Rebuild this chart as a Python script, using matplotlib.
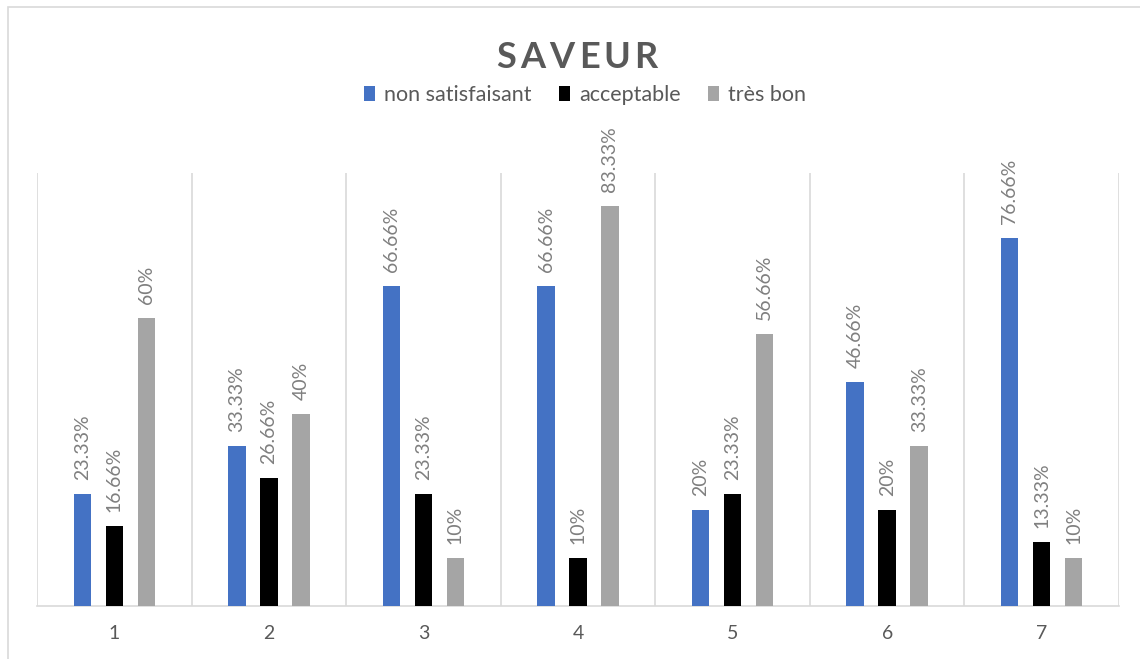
import matplotlib
matplotlib.use("Agg")
import matplotlib.pyplot as plt
from matplotlib.patches import Rectangle, Patch
import numpy as np

# Data
categories = ["1", "2", "3", "4", "5", "6", "7"]
series_names = ["non satisfaisant", "acceptable", "très bon"]
non_satisfaisant = [23.33, 33.33, 66.66, 66.66, 20, 46.66, 76.66]
acceptable = [16.66, 26.66, 23.33, 10, 23.33, 20, 13.33]
tres_bon = [60, 40, 10, 83.33, 56.66, 33.33, 10]
series_values = [non_satisfaisant, acceptable, tres_bon]
series_colors = ["#4472C4", "#000000", "#A5A5A5"]

plt.rcParams["font.family"] = ["Lato", "DejaVu Sans"]

W, H = 1140, 659
fig = plt.figure(figsize=(W / 100, H / 100), dpi=100)

# chart-area frame
fig.patches.append(Rectangle((8 / W, -0.2), 1.5, (H - 7) / H + 0.2,
                             transform=fig.transFigure, fill=False,
                             edgecolor="#D9D9D9", linewidth=1.2))

ax = fig.add_axes([37 / W, 53 / H, (1119 - 37) / W, 433 / H])

x = np.arange(1, len(categories) + 1)
bar_w = 0.112
offset = 0.207

def fmt(v):
    s = f"{v:.2f}".rstrip("0").rstrip(".")
    return s + "%"

for i, (vals, col) in enumerate(zip(series_values, series_colors)):
    pos = x + (i - 1) * offset
    bars = ax.bar(pos, vals, width=bar_w, color=col, zorder=3)
    for b, v in zip(bars, vals):
        ax.annotate(fmt(v), (b.get_x() + b.get_width() / 2, v),
                    xytext=(0, 10), textcoords="offset points",
                    rotation=90, ha="center", va="bottom",
                    fontsize=14, color="#7F7F7F")

ax.set_xlim(0.5, len(categories) + 0.5)
ax.set_ylim(0, 90.2)
ax.set_xticks(x)
ax.set_xticklabels(categories, fontsize=14, color="#595959")
ax.set_xticks(np.arange(0.5, len(categories) + 1, 1), minor=True)
ax.tick_params(axis="x", which="both", length=0, pad=14)
ax.grid(axis="x", which="minor", color="#D9D9D9", linewidth=1.2, zorder=0)
ax.set_yticks([])
for side in ("top", "right", "left"):
    ax.spines[side].set_visible(False)
ax.spines["bottom"].set_color("#D9D9D9")
ax.spines["bottom"].set_linewidth(1.2)

# Title with letter spacing
title = "SAVEUR"
renderer = fig.canvas.get_renderer()
tprops = dict(fontsize=26, fontweight="bold", color="#595959")
spacing = 4.0
widths = []
for ch in title:
    t = fig.text(0, 0, ch, **tprops)
    widths.append(t.get_window_extent(renderer).width)
    t.remove()
total = sum(widths) + spacing * (len(title) - 1)
cx = 577
xpos = cx - total / 2
for ch, w in zip(title, widths):
    fig.text(xpos / W, 1 - 68 / H, ch, ha="left", va="baseline", **tprops)
    xpos += w + spacing

handles = [Patch(facecolor=c, edgecolor="none") for c in series_colors]
fig.legend(handles, series_names, loc="center", bbox_to_anchor=(585 / W, 1 - 95 / H),
           ncol=3, frameon=False, fontsize=15.5, handlelength=0.5, handleheight=0.75,
           handletextpad=0.42, columnspacing=1.3, labelcolor="#595959")

fig.savefig("out.png", dpi=100)
